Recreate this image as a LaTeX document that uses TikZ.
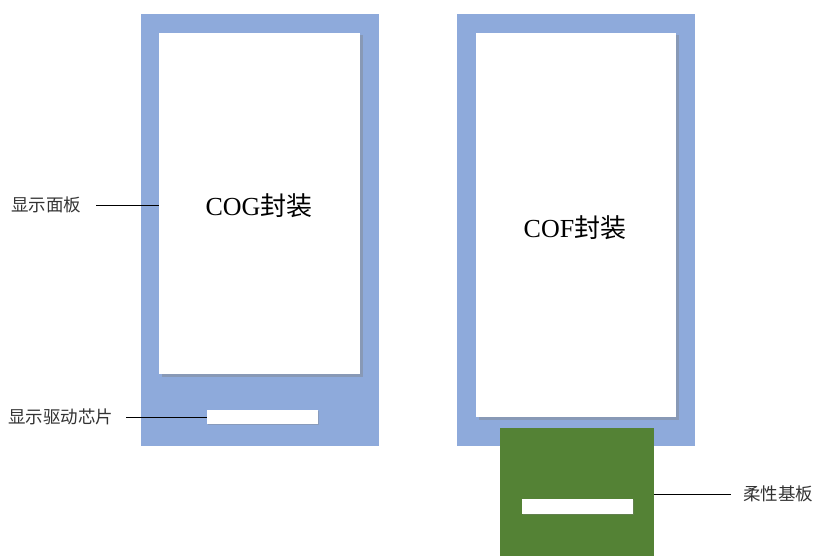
\documentclass[tikz,border=0pt]{standalone}
\usepackage{fontspec}
\setmainfont{Liberation Serif}
\newfontfamily\cjk{Noto Sans CJK SC}
\usepackage{tikz}
\usetikzlibrary{positioning}
\usetikzlibrary{shadows}
\definecolor{bleupanneau}{HTML}{8EAADB}
\definecolor{vertflex}{HTML}{548235}

\begin{document}
\begin{tikzpicture}[x=1pt,y=-1pt]
% définition des paramètres
\tikzstyle panneaubleu=[fill=bleupanneau,draw=none,inner sep=0pt]
\tikzstyle ecranblanc=[fill=white,draw=none,inner sep=0pt,drop shadow={shadow xshift=2.5pt,shadow yshift=-2.5pt,opacity=0.4}]
\tikzstyle pucemichael=[fill=white,draw=none,inner sep=0pt,drop shadow={shadow xshift=1.2pt,shadow yshift=-1.2pt,opacity=0.35}]
\tikzstyle substratvert=[fill=vertflex,draw=none,inner sep=0pt]
\tikzstyle titremichael=[font=\fontsize{26}{30}\selectfont,text=black]
\tikzstyle etiquette=[font=\fontsize{17.5}{21}\selectfont\cjk,text=black!80,inner sep=0pt]
\tikzstyle traitmichael=[color=black,thick]
\newcommand{\larpanneau}{238} % largeur du panneau bleu
\newcommand{\hautpanneau}{432} % et sa hauteur

\useasboundingbox (0,0) rectangle (813,556);

% le panneau COG
\node[panneaubleu,minimum width=\larpanneau,minimum height=\hautpanneau] (panneaucog) at (260,230) {};
\node[ecranblanc,minimum width=201,minimum height=341] (ecrancog) at (259.5,203.5) {};
\node[pucemichael,minimum width=111,minimum height=14] (pucecog) at (262.5,417) {};
\node[titremichael] (titrecog) at (259,206) {COG{\cjk 封装}};

% le panneau COF
\node[panneaubleu,minimum width=\larpanneau,minimum height=\hautpanneau] (panneaucof) at (576,230) {};
\node[ecranblanc,minimum width=200,minimum height=384] (ecrancof) at (576,225) {};
\node[substratvert,minimum width=154,minimum height=128] (substrat) at (577,492) {};
\node[pucemichael,minimum width=111,minimum height=15] (pucecof) at (577.5,506.5) {};
\node[titremichael] (titrecof) at (575,228) {COF{\cjk 封装}};

% les étiquettes
\node[etiquette,anchor=west] (lblpanneau) at (11,205) {显示面板};
\node[etiquette,anchor=west] (lblpuce) at (8,417) {显示驱动芯片};
\node[etiquette,anchor=west] (lblsubstrat) at (743,494) {柔性基板};

% les traits
\draw[traitmichael] ([xshift=15pt]lblpanneau.east) -- (ecrancog.west |- lblpanneau.east);
\draw[traitmichael] ([xshift=13pt]lblpuce.east) -- (pucecog.west);
\draw[traitmichael] (substrat.east |- lblsubstrat.west) -- ([xshift=-12pt]lblsubstrat.west);
\end{tikzpicture}
\end{document}
